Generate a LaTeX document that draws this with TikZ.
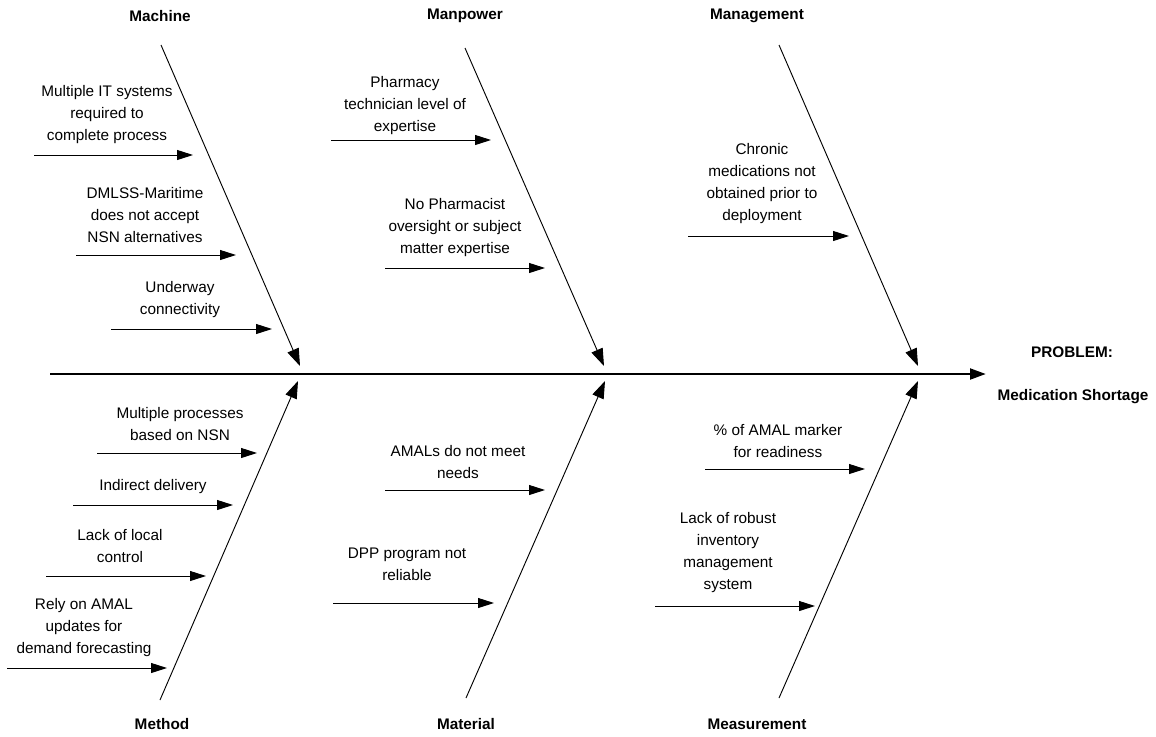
\documentclass[tikz,border=0pt]{standalone}
\usepackage{fontspec}
\setmainfont{Liberation Sans}
\usetikzlibrary{arrows.meta,positioning}
\tikzset{
  cause/.style={font=\fontsize{11.5}{16.5}\selectfont, align=center, inner sep=0pt},
  cat/.style={font=\fontsize{11.5}{14}\selectfont\bfseries, inner sep=0pt},
  bone/.style={-{Triangle[length=13pt,width=9pt]}, line width=0.7pt},
  twig/.style={-{Triangle[length=12pt,width=7.5pt]}, line width=0.7pt},
  spine/.style={-{Triangle[length=12pt,width=8pt]}, line width=2.2pt}
}
\begin{document}
\begin{tikzpicture}[x=0.75pt,y=-0.75pt]
  \useasboundingbox (0,0) rectangle (1156,736);

  % spine and effect
  \coordinate (tail) at (50,374);
  \coordinate (head) at (986,374);
  \draw[spine] (tail) -- (head);
  \node[cat] (prob) at (1072,352) {PROBLEM:};
  \node[cat] (effect) at (1073,397) {Medication Shortage};

  % category bones
  \node[cat] (machine) at (160,16) {Machine};
  \node[cat] (manpower) at (465,16) {Manpower};
  \node[cat] (management) at (757,16) {Management};
  \node[cat] (method) at (162,724) {Method};
  \node[cat] (material) at (466,724) {Material};
  \node[cat] (measurement) at (757,724) {Measurement};

  \coordinate (machS) at (161,45);  \coordinate (machE) at (300,366);
  \coordinate (manpS) at (465,48);  \coordinate (manpE) at (604,366);
  \coordinate (mgmtS) at (779,45);  \coordinate (mgmtE) at (918,366);
  \coordinate (methS) at (160,700); \coordinate (methE) at (298,381);
  \coordinate (matlS) at (466,698); \coordinate (matlE) at (605,381);
  \coordinate (measS) at (779,698); \coordinate (measE) at (918,381);
  \draw[bone] (machS) -- (machE);
  \draw[bone] (manpS) -- (manpE);
  \draw[bone] (mgmtS) -- (mgmtE);
  \draw[bone] (methS) -- (methE);
  \draw[bone] (matlS) -- (matlE);
  \draw[bone] (measS) -- (measE);

  % Machine causes
  \node[cause] (mc1) at (107,115) {Multiple IT systems\\required to\\complete process};
  \coordinate (mc1s) at (34,155); \coordinate (mc1e) at (193,155);
  \draw[twig] (mc1s) -- (mc1e);
  \node[cause] (mc2) at (145,215) {DMLSS-Maritime\\does not accept\\NSN alternatives};
  \coordinate (mc2s) at (76,255); \coordinate (mc2e) at (236,255);
  \draw[twig] (mc2s) -- (mc2e);
  \node[cause] (mc3) at (180,300) {Underway\\connectivity};
  \coordinate (mc3s) at (111,329); \coordinate (mc3e) at (272,329);
  \draw[twig] (mc3s) -- (mc3e);

  % Manpower causes
  \node[cause] (mp1) at (405,106) {Pharmacy\\technician level of\\expertise};
  \coordinate (mp1s) at (331,140); \coordinate (mp1e) at (491,140);
  \draw[twig] (mp1s) -- (mp1e);
  \node[cause] (mp2) at (455,228) {No Pharmacist\\oversight or subject\\matter expertise};
  \coordinate (mp2s) at (385,268); \coordinate (mp2e) at (545,268);
  \draw[twig] (mp2s) -- (mp2e);

  % Management causes
  \node[cause] (mg1) at (762,184) {Chronic\\medications not\\obtained prior to\\deployment};
  \coordinate (mg1s) at (688,236); \coordinate (mg1e) at (849,236);
  \draw[twig] (mg1s) -- (mg1e);

  % Method causes
  \node[cause] (me1) at (180,424) {Multiple processes\\based on NSN};
  \coordinate (me1s) at (97,453); \coordinate (me1e) at (257,453);
  \draw[twig] (me1s) -- (me1e);
  \node[cause] (me2) at (153,487) {Indirect delivery};
  \coordinate (me2s) at (73,505); \coordinate (me2e) at (233,505);
  \draw[twig] (me2s) -- (me2e);
  \node[cause] (me3) at (120,546) {Lack of local\\control};
  \coordinate (me3s) at (46,576); \coordinate (me3e) at (206,576);
  \draw[twig] (me3s) -- (me3e);
  \node[cause] (me4) at (84,628) {Rely on AMAL\\updates for\\demand forecasting};
  \coordinate (me4s) at (7,668); \coordinate (me4e) at (167,668);
  \draw[twig] (me4s) -- (me4e);

  % Material causes
  \node[cause] (ma1) at (458,462) {AMALs do not meet\\needs};
  \coordinate (ma1s) at (385,490); \coordinate (ma1e) at (545,490);
  \draw[twig] (ma1s) -- (ma1e);
  \node[cause] (ma2) at (407,564) {DPP program not\\reliable};
  \coordinate (ma2s) at (333,603); \coordinate (ma2e) at (494,603);
  \draw[twig] (ma2s) -- (ma2e);

  % Measurement causes
  \node[cause] (ms1) at (778,441) {\% of AMAL marker\\for readiness};
  \coordinate (ms1s) at (705,469); \coordinate (ms1e) at (865,469);
  \draw[twig] (ms1s) -- (ms1e);
  \node[cause] (ms2) at (728,553) {Lack of robust\\inventory\\management\\system};
  \coordinate (ms2s) at (655,606); \coordinate (ms2e) at (815,606);
  \draw[twig] (ms2s) -- (ms2e);
\end{tikzpicture}
\end{document}
